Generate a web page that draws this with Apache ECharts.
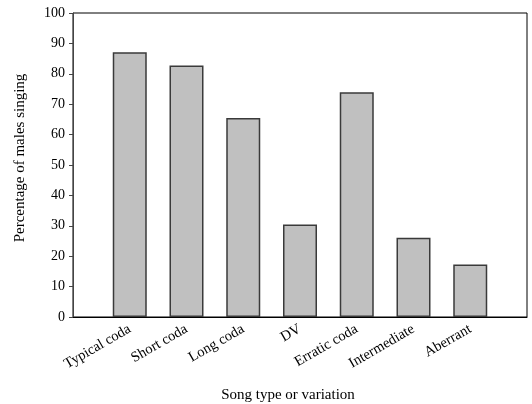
<!DOCTYPE html>
<html>
<head>
<meta charset="utf-8">
<script src="https://cdn.jsdelivr.net/npm/echarts@6/dist/echarts.min.js"></script>
<style>html,body{margin:0;padding:0;background:#fff;}#c{width:532px;height:404px;}</style>
</head>
<body>
<div id="c"></div>
<script>
var categories = ['Typical coda', 'Short coda', 'Long coda', 'DV', 'Erratic coda', 'Intermediate', 'Aberrant'];
var values = [87.1, 82.7, 65.5, 30.4, 73.9, 26.1, 17.3];
var yMin = 0, yMax = 100, yInterval = 10;
var yTitle = 'Percentage of males singing';
var xTitle = 'Song type or variation';

var cats = [''].concat(categories).concat(['']);
var vals = [null].concat(values).concat([null]);
var FONT = '"Liberation Serif", "Times New Roman", serif';

var chart = echarts.init(document.getElementById('c'), null, {renderer: 'canvas'});
chart.setOption({
  animation: false,
  backgroundColor: '#fff',
  grid: {left: 73, right: 5, top: 13, bottom: 87, show: true, borderColor: '#000', borderWidth: 1, backgroundColor: 'transparent'},
  xAxis: {
    type: 'category',
    data: cats,
    boundaryGap: false,
    axisLine: {show: true, lineStyle: {color: '#000', width: 1}},
    axisTick: {show: false},
    splitLine: {show: false},
    axisLabel: {interval: 0, rotate: 30, margin: 11, color: '#000', fontFamily: FONT, fontSize: 14.5}
  },
  yAxis: {
    type: 'value',
    min: yMin, max: yMax, interval: yInterval,
    axisLine: {show: true, lineStyle: {color: '#444', width: 1}},
    axisTick: {show: true, inside: false, length: 4, lineStyle: {color: '#444'}},
    splitLine: {show: false},
    axisLabel: {margin: 8, color: '#000', fontFamily: FONT, fontSize: 14}
  },
  graphic: [
    {type: 'text', x: 20, y: 158, rotation: Math.PI / 2, style: {text: yTitle, x: 0, y: 0, font: '15px ' + FONT, fill: '#000', textAlign: 'center', textVerticalAlign: 'middle'}},
    {type: 'text', x: 288, y: 395, style: {text: xTitle, x: 0, y: 0, font: '15px ' + FONT, fill: '#000', textAlign: 'center', textVerticalAlign: 'middle'}}
  ],
  series: [{
    type: 'bar',
    data: vals,
    barWidth: 34,
    itemStyle: {color: '#c0c0c0', borderColor: '#3a3a3a', borderWidth: 1.5}
  }]
});
</script>
</body>
</html>
